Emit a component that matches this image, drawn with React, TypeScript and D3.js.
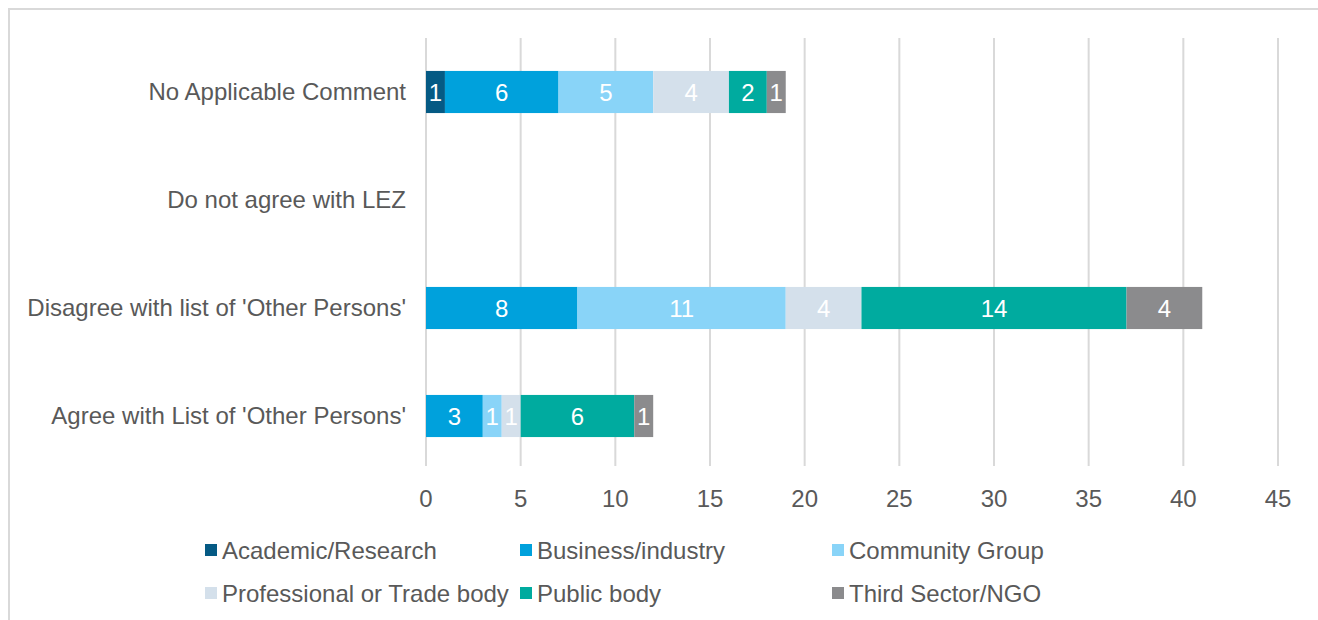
import * as d3 from "d3";
import { useEffect, useRef } from "react";

const WIDTH = 1318;
const HEIGHT = 620;

// categories, top to bottom
const categories = [
  "No Applicable Comment",
  "Do not agree with LEZ",
  "Disagree with list of 'Other Persons'",
  "Agree with List of 'Other Persons'",
];

const seriesNames = [
  "Academic/Research",
  "Business/industry",
  "Community Group",
  "Professional or Trade body",
  "Public body",
  "Third Sector/NGO",
];

const seriesColors = ["#055a84", "#00a1dc", "#89d4f8", "#d4e0eb", "#00ab9f", "#8b8b8d"];

// one array per series, in category order
const academic = [1, 0, 0, 0];
const business = [6, 0, 8, 3];
const community = [5, 0, 11, 1];
const professional = [4, 0, 4, 1];
const publicBody = [2, 0, 14, 6];
const thirdSector = [1, 0, 4, 1];

const xTicks = [0, 5, 10, 15, 20, 25, 30, 35, 40, 45];

const FONT = "'Liberation Sans', Arial, sans-serif";
const FONT_SIZE = 24;
const TEXT = "#595959";

export default function App() {
  const svgRef = useRef<SVGSVGElement>(null);

  useEffect(() => {
    const svg = d3.select(svgRef.current);
    svg.selectAll("*").remove();

    // chart frame (only top and left edges are visible)
    svg
      .append("path")
      .attr("d", `M9,${HEIGHT} V9 H${WIDTH}`)
      .attr("fill", "none")
      .attr("stroke", "#d9d9d9")
      .attr("stroke-width", 2);

    const x = d3.scaleLinear().domain([0, 45]).range([426, 1278]);
    const y = d3.scaleBand().domain(categories).range([38, 470]).paddingInner(0.61).paddingOuter(0.305);

    // gridlines
    svg
      .append("g")
      .selectAll("line")
      .data(xTicks)
      .enter()
      .append("line")
      .attr("x1", (d) => x(d))
      .attr("x2", (d) => x(d))
      .attr("y1", 38)
      .attr("y2", 466)
      .attr("stroke", "#d9d9d9")
      .attr("stroke-width", 2);

    // tick labels
    svg
      .append("g")
      .selectAll("text")
      .data(xTicks)
      .enter()
      .append("text")
      .attr("x", (d) => x(d))
      .attr("y", 507)
      .attr("text-anchor", "middle")
      .attr("font-family", FONT)
      .attr("font-size", FONT_SIZE)
      .attr("fill", TEXT)
      .text((d) => d);

    // category labels
    svg
      .append("g")
      .selectAll("text")
      .data(categories)
      .enter()
      .append("text")
      .attr("x", 406)
      .attr("y", (d) => y(d)! + y.bandwidth() / 2)
      .attr("dy", "0.35em")
      .attr("text-anchor", "end")
      .attr("font-family", FONT)
      .attr("font-size", FONT_SIZE)
      .attr("fill", TEXT)
      .text((d) => d);

    const table = categories.map((c, i) => ({
      category: c,
      [seriesNames[0]]: academic[i],
      [seriesNames[1]]: business[i],
      [seriesNames[2]]: community[i],
      [seriesNames[3]]: professional[i],
      [seriesNames[4]]: publicBody[i],
      [seriesNames[5]]: thirdSector[i],
    }));

    const stacked = d3.stack<any>().keys(seriesNames)(table);

    const layers = svg
      .append("g")
      .selectAll("g")
      .data(stacked)
      .enter()
      .append("g")
      .attr("fill", (_, i) => seriesColors[i]);

    layers
      .selectAll("rect")
      .data((d) => d.filter((s) => s[1] - s[0] > 0))
      .enter()
      .append("rect")
      .attr("x", (d) => x(d[0]))
      .attr("y", (d) => y(d.data.category)!)
      .attr("width", (d) => x(d[1]) - x(d[0]))
      .attr("height", y.bandwidth());

    layers
      .selectAll("text")
      .data((d) => d.filter((s) => s[1] - s[0] > 0))
      .enter()
      .append("text")
      .attr("x", (d) => (x(d[0]) + x(d[1])) / 2)
      .attr("y", (d) => y(d.data.category)! + y.bandwidth() / 2)
      .attr("dy", "0.36em")
      .attr("text-anchor", "middle")
      .attr("font-family", FONT)
      .attr("font-size", FONT_SIZE)
      .attr("fill", "#fff")
      .text((d) => d[1] - d[0]);

    // legend
    const legendCols = [205, 520, 832];
    const legendRows = [550, 593];
    const legend = svg
      .append("g")
      .selectAll("g")
      .data(seriesNames)
      .enter()
      .append("g")
      .attr("transform", (_, i) => `translate(${legendCols[i % 3]}, ${legendRows[Math.floor(i / 3)]})`);

    legend
      .append("rect")
      .attr("x", 0)
      .attr("y", -6)
      .attr("width", 12)
      .attr("height", 12)
      .attr("fill", (_, i) => seriesColors[i]);

    legend
      .append("text")
      .attr("x", 17)
      .attr("y", 0)
      .attr("dy", "0.36em")
      .attr("font-family", FONT)
      .attr("font-size", FONT_SIZE)
      .attr("fill", TEXT)
      .text((d) => d);
  }, []);

  return (
    <svg
      ref={svgRef}
      width={WIDTH}
      height={HEIGHT}
      style={{ position: "absolute", left: 0, top: 0, display: "block" }}
    />
  );
}
